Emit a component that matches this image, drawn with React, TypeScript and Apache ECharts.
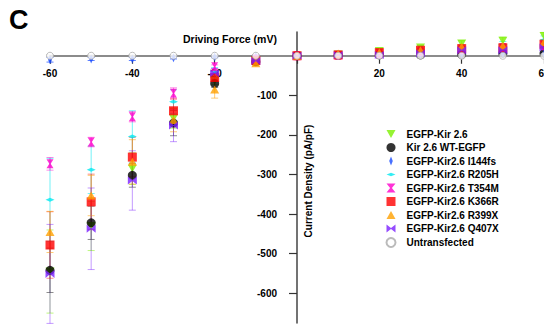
import React, { useEffect, useRef } from "react";
import * as echarts from "echarts";

const voltages = [-60, -50, -40, -30, -20, -10, 0, 10, 20, 30, 40, 50, 60];

const kir26 = [-545, -430, -285, -158, -63, -12, 0, 3, 12, 21, 31, 38, 50];
const kir26Se = [105, 62, 40, 25, 10, 4, 0, 2, 3, 4, 7, 9, 9];
const wt = [-542, -422, -302, -170, -70, -15, 0, 1, 2, 2, 3, 6, 6];
const wtSe = [56, 42, 30, 32, 10, 4, 0, 1, 2, 2, 3, 3, 3];
const i144fs = [-10, -8, -8, -5, -3, -2, 0, 1, 2, 3, 4, 5, 6];
const i144fsSe = [6, 4, 4, 3, 2, 1, 0, 1, 1, 1, 1, 2, 2];
const r205h = [-364, -288, -204, -116, -40, -10, 0, 2, 8, 15, 22, 28, 40];
const r205hSe = [105, 60, 65, 30, 10, 4, 0, 1, 3, 4, 6, 8, 10];
const t354m = [-273, -218, -154, -95, -28, -8, 0, 1, 5, 10, 15, 20, 25];
const t354mSe = [16, 12, 13, 14, 5, 2, 0, 1, 2, 2, 3, 3, 4];
const k366r = [-478, -369, -256, -139, -55, -12, 0, 2, 8, 14, 18, 20, 29];
const k366rSe = [84, 70, 50, 30, 10, 4, 0, 1, 2, 3, 4, 5, 6];
const r399x = [-445, -353, -268, -162, -85, -19, 0, 6, 9, 14, 23, 25, 34];
const r399xSe = [52, 51, 56, 30, 22, 5, 0, 2, 3, 4, 5, 6, 7];
const q407x = [-551, -437, -315, -176, -44, -13, 0, 2, 2, 6, 14, 14, 21];
const q407xSe = [125, 103, 75, 41, 12, 4, 0, 1, 2, 3, 4, 5, 6];
const untrans = [0, 0, 0, 0, 0, 0, 0, 0, 0, 0, 0, 0, 0];
const untransSe = [2, 2, 2, 2, 2, 1, 0, 1, 1, 1, 1, 1, 1];

const xTickLabels = [-60, -40, -20, 20, 40, 60];
const xTicks = [-60, -40, -20, 0, 20, 40, 60];
const yTickLabels = [-600, -500, -400, -300, -200, -100];

const FONT = "'Liberation Sans', Arial, Helvetica, sans-serif";

const DOWN_TRI = "path://M0,0 L10,0 L5,9 Z";
const UP_TRI = "path://M5,0 L10,9 L0,9 Z";
const THIN_DIAMOND = "path://M2,0 L4,5 L2,10 L0,5 Z";
const FLAT_DIAMOND = "path://M0,2 L5,0 L10,2 L5,4 Z";
const HOURGLASS = "path://M0,0 L10,0 L6,5 L10,10 L0,10 L4,5 Z";
const BOWTIE = "path://M0,0 L5,4 L10,0 L10,9 L5,5 L0,9 Z";

type Def = {
  name: string;
  values: number[];
  se: number[];
  color: string;
  errColor: string;
  symbol: string;
  size: number | number[];
  icon: string;
  open?: boolean;
};

const defs: Def[] = [
  { name: "EGFP-Kir 2.6", values: kir26, se: kir26Se, color: "#7cf000", errColor: "rgba(124,240,0,0.5)", symbol: DOWN_TRI, size: [9, 8], icon: DOWN_TRI },
  { name: "Kir 2.6 WT-EGFP", values: wt, se: wtSe, color: "#000000", errColor: "rgba(0,0,0,0.45)", symbol: "circle", size: 9, icon: "circle" },
  { name: "EGFP-Kir2.6 I144fs", values: i144fs, se: i144fsSe, color: "#1a4cff", errColor: "rgba(26,76,255,0.7)", symbol: THIN_DIAMOND, size: [4, 9], icon: THIN_DIAMOND },
  { name: "EGFP-Kir2.6 R205H", values: r205h, se: r205hSe, color: "#00e8f0", errColor: "rgba(0,232,240,0.55)", symbol: FLAT_DIAMOND, size: [9, 4], icon: FLAT_DIAMOND },
  { name: "EGFP-Kir2.6 T354M", values: t354m, se: t354mSe, color: "#ff00cc", errColor: "rgba(255,0,204,0.45)", symbol: HOURGLASS, size: [7, 9], icon: HOURGLASS },
  { name: "EGFP-Kir2.6 K366R", values: k366r, se: k366rSe, color: "#ff0000", errColor: "rgba(255,0,0,0.45)", symbol: "rect", size: 9, icon: "rect" },
  { name: "EGFP-Kir2.6 R399X", values: r399x, se: r399xSe, color: "#ffa000", errColor: "rgba(255,160,0,0.55)", symbol: UP_TRI, size: [9, 8], icon: UP_TRI },
  { name: "EGFP-Kir2.6 Q407X", values: q407x, se: q407xSe, color: "#7a1fff", errColor: "rgba(122,31,255,0.45)", symbol: BOWTIE, size: [9, 8], icon: BOWTIE },
  { name: "Untransfected", values: untrans, se: untransSe, color: "#aaaaaa", errColor: "rgba(150,150,150,0.5)", symbol: "circle", size: 7, icon: "circle", open: true },
];

export default function App() {
  const ref = useRef<HTMLDivElement>(null);
  useEffect(() => {
    if (!ref.current) return;
    const chart = echarts.init(ref.current, undefined, { renderer: "svg" });

    const series: any[] = [];
    defs.forEach((d) => {
      series.push({
        name: d.name + "_err",
        type: "custom",
        z: 1,
        silent: true,
        data: voltages.map((v, k) => [v, d.values[k] - d.se[k], d.values[k] + d.se[k]]),
        encode: { x: 0, y: [1, 2] },
        renderItem: (params: any, api: any) => {
          const x = api.value(0);
          const lo = api.coord([x, api.value(1)]);
          const hi = api.coord([x, api.value(2)]);
          const w = 3.5;
          const st = { stroke: d.errColor, lineWidth: 1 };
          return {
            type: "group",
            children: [
              { type: "line", shape: { x1: lo[0], y1: lo[1], x2: hi[0], y2: hi[1] }, style: st },
              { type: "line", shape: { x1: lo[0] - w, y1: lo[1], x2: lo[0] + w, y2: lo[1] }, style: st },
              { type: "line", shape: { x1: hi[0] - w, y1: hi[1], x2: hi[0] + w, y2: hi[1] }, style: st },
            ],
          };
        },
      });
    });
    defs.forEach((d, i) => {
      series.push({
        name: d.name,
        type: "scatter",
        z: 3 + i,
        symbol: d.symbol,
        symbolSize: d.size,
        data: voltages.map((v, k) => [v, d.values[k]]),
        itemStyle: d.open
          ? { color: "#ffffff", borderColor: d.color, borderWidth: 1 }
          : { color: d.color },
      });
    });

    // grid geometry: left 50, right 0, top 32, bottom 4 in a 544x327 box
    const xMin = -60, xMax = 60, yMin = -675, yMax = 60;
    const gridLeft = 50, gridTop = 32, gridW = 544 - 50, gridH = 327 - 32 - 4;
    const yAxisOffset = -((0 - xMin) / (xMax - xMin)) * gridW;
    const xAxisOffset = -((0 - yMin) / (yMax - yMin)) * gridH;

    chart.setOption({
      animation: false,
      backgroundColor: "#ffffff",
      grid: { left: gridLeft, right: 0, top: gridTop, bottom: 4, containLabel: false, outerBoundsMode: "none" },
      xAxis: {
        type: "value",
        min: xMin,
        max: xMax,
        position: "bottom",
        offset: xAxisOffset,
        axisLine: { onZero: false, lineStyle: { color: "#666666", width: 1.5 } },
        axisTick: { length: 8, customValues: xTicks, lineStyle: { color: "#333333", width: 1.2 } },
        axisLabel: {
          customValues: xTickLabels,
          margin: 13,
          color: "#000000",
          fontFamily: FONT,
          fontWeight: "bold",
          fontSize: 10,
        },
        splitLine: { show: false },
      },
      yAxis: {
        type: "value",
        min: yMin,
        max: yMax,
        position: "left",
        offset: yAxisOffset,
        axisLine: { show: true, onZero: false, lineStyle: { color: "#444444", width: 1.5 } },
        axisTick: { show: true, length: 8, customValues: yTickLabels, lineStyle: { color: "#333333", width: 1.2 } },
        axisLabel: {
          customValues: yTickLabels,
          margin: 20,
          color: "#000000",
          fontFamily: FONT,
          fontWeight: "bold",
          fontSize: 10,
        },
        splitLine: { show: false },
      },
      legend: {
        orient: "vertical",
        left: 380.5,
        top: 124,
        itemWidth: 9,
        itemHeight: 9,
        itemGap: 3.5,
        symbolKeepAspect: true,
        data: defs.map((d) => ({ name: d.name, icon: d.icon })),
        textStyle: { fontFamily: FONT, fontWeight: "bold", fontSize: 10, color: "#000000", padding: [0, 0, 0, 6] },
      },
      graphic: [
        { type: "text", left: 9, top: 6, style: { text: "C", font: "bold 27px " + FONT, fill: "#000000" } },
        { type: "text", left: 183, top: 33, style: { text: "Driving Force (mV)", font: "bold 10.5px " + FONT, fill: "#000000" } },
        {
          type: "text",
          x: 308,
          y: 181,
          rotation: Math.PI / 2,
          style: {
            text: "Current Density (pA/pF)",
            font: "bold 10px " + FONT,
            fill: "#000000",
            align: "center",
            verticalAlign: "middle",
          },
        },
      ],
      series,
    });
    return () => chart.dispose();
  }, []);
  return (
    <div
      ref={ref}
      style={{ position: "fixed", left: 0, top: 0, width: 544, height: 327, background: "#fff" }}
    />
  );
}
